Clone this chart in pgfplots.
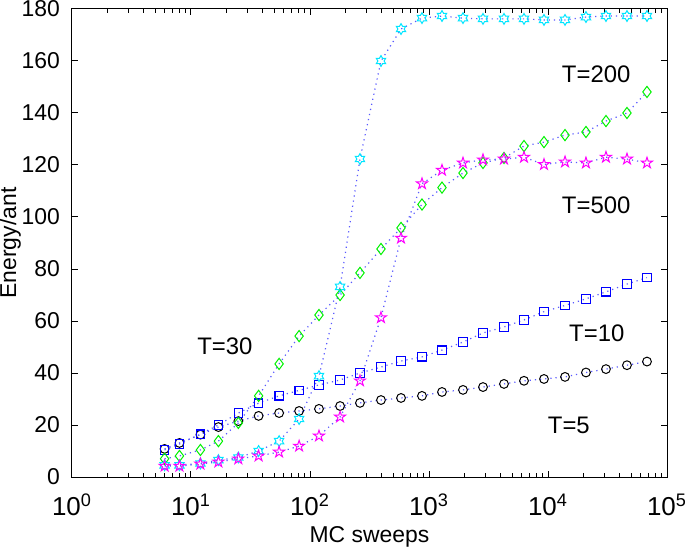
\documentclass[border=0pt]{standalone}
\usepackage{pgfplots}
\usepackage{pgfplotstable}
\pgfplotsset{compat=1.18}
\usepackage{fontspec}
\setmainfont{Liberation Sans}
\usetikzlibrary{plotmarks}

\definecolor{lineblue}{rgb}{0.35,0.35,1}
\definecolor{mgreen}{rgb}{0,0.95,0}
\definecolor{mmag}{rgb}{1,0,1}
\definecolor{mcyan}{rgb}{0,0.9,1}

\pgfdeclareplotmark{pentagram}{%
 \pgfpathmoveto{\pgfpointpolar{90}{\pgfplotmarksize}}%
 \pgfpathlineto{\pgfpointpolar{126}{0.382\pgfplotmarksize}}%
 \pgfpathlineto{\pgfpointpolar{162}{\pgfplotmarksize}}%
 \pgfpathlineto{\pgfpointpolar{198}{0.382\pgfplotmarksize}}%
 \pgfpathlineto{\pgfpointpolar{234}{\pgfplotmarksize}}%
 \pgfpathlineto{\pgfpointpolar{270}{0.382\pgfplotmarksize}}%
 \pgfpathlineto{\pgfpointpolar{306}{\pgfplotmarksize}}%
 \pgfpathlineto{\pgfpointpolar{342}{0.382\pgfplotmarksize}}%
 \pgfpathlineto{\pgfpointpolar{18}{\pgfplotmarksize}}%
 \pgfpathlineto{\pgfpointpolar{54}{0.382\pgfplotmarksize}}%
 \pgfpathclose\pgfusepathqstroke}

\pgfdeclareplotmark{hexagram}{%
 \pgfpathmoveto{\pgfpointpolar{90}{\pgfplotmarksize}}%
 \pgfpathlineto{\pgfpointpolar{120}{0.577\pgfplotmarksize}}%
 \pgfpathlineto{\pgfpointpolar{150}{\pgfplotmarksize}}%
 \pgfpathlineto{\pgfpointpolar{180}{0.577\pgfplotmarksize}}%
 \pgfpathlineto{\pgfpointpolar{210}{\pgfplotmarksize}}%
 \pgfpathlineto{\pgfpointpolar{240}{0.577\pgfplotmarksize}}%
 \pgfpathlineto{\pgfpointpolar{270}{\pgfplotmarksize}}%
 \pgfpathlineto{\pgfpointpolar{300}{0.577\pgfplotmarksize}}%
 \pgfpathlineto{\pgfpointpolar{330}{\pgfplotmarksize}}%
 \pgfpathlineto{\pgfpointpolar{0}{0.577\pgfplotmarksize}}%
 \pgfpathlineto{\pgfpointpolar{30}{\pgfplotmarksize}}%
 \pgfpathlineto{\pgfpointpolar{60}{0.577\pgfplotmarksize}}%
 \pgfpathclose\pgfusepathqstroke}

\pgfplotstableread{
x      t5    t10   t30    t500   t200
6      10.8  10.4  7.0    4.2    4.5
8      13.1  12.7  8.1    4.2    4.5
12     16.3  16.5  10.4   5.0    5.2
17     19.2  20.0  13.8   5.8    6.5
25     21.5  24.6  20.8   7.0    7.5
37     23.5  28.4  31.2   8.1    10.0
55     24.6  31.2  43.5   9.6    13.8
81     25.4  33.3  54.2   11.9   22.3
119    26.2  35.4  62.3   15.8   38.8
179    27.3  37.3  70.0   23.1   73.1
263    28.5  40.0  78.5   37.0   122.3
395    29.6  42.3  87.7   61.3   160.0
582    30.4  44.6  95.8   91.9   172.3
873    31.2  46.2  104.8  112.8  176.5
1286   32.7  48.8  111.3  118.0  177.3
1931   33.5  51.9  116.9  120.8  176.5
2843   34.6  55.4  120.8  122.0  176.2
4268   35.8  57.7  122.7  122.3  176.2
6285   37.0  60.4  127.3  123.0  176.2
9254   37.7  63.6  128.8  120.2  175.8
13900  38.5  66.0  131.5  121.2  175.8
20850  40.2  68.5  132.7  120.8  176.9
30700  41.5  71.2  136.9  123.0  177.3
46100  43.0  74.2  140.0  122.3  177.3
67900  44.4  76.7  148.1  120.8  177.3
}\datatable

\begin{document}
\begin{tikzpicture}
\path[use as bounding box] (-36bp,-35bp) rectangle (306.5bp,238.5bp);
\begin{axis}[
  xmode=log,
  scale only axis,
  width=297.5bp, height=234bp,
  xmin=1, xmax=100000, ymin=0, ymax=180,
  xtick={1,10,100,1000,10000,100000},
  xticklabels={10\textsuperscript{0},10\textsuperscript{1},10\textsuperscript{2},10\textsuperscript{3},10\textsuperscript{4},10\textsuperscript{5}},
  ytick={0,20,40,60,80,100,120,140,160,180},
  yticklabels={0,20,40,60,80,100,120,140,160,180},
  tick align=inside,
  major tick length=3bp, minor tick length=1.8bp,
  axis line style={line width=0.5bp},
  every tick/.style={black, line width=0.5bp},
  yticklabel style={font=\fontsize{11.5}{14}\selectfont, xshift=-2.5bp},
  xticklabel style={font=\fontsize{13}{15}\selectfont, yshift=-5bp},
  xlabel={MC sweeps}, ylabel={Energy/ant},
  label style={font=\fontsize{11.5}{13}\selectfont},
  xlabel style={at={(axis description cs:0.5,0)}, anchor=base, yshift=-32.5bp},
  ylabel style={at={(axis description cs:-0.104,0.5)}, anchor=center, rotate=0},
  clip=false,
]
\addplot[color=lineblue, dotted, line width=0.6bp, mark=o, mark size=2.2bp, mark options={solid, draw=black, line width=0.5bp}] table[x=x, y=t5] {\datatable};
\addplot[color=lineblue, dotted, line width=0.6bp, mark=square, mark size=2.1bp, mark options={solid, draw=blue, line width=0.6bp}] table[x=x, y=t10] {\datatable};
\addplot[color=lineblue, dotted, line width=0.6bp, mark=diamond, mark size=2.8bp, mark options={solid, draw=mgreen, line width=0.5bp}] table[x=x, y=t30] {\datatable};
\addplot[color=lineblue, dotted, line width=0.6bp, mark=hexagram, mark size=2.7bp, mark options={solid, draw=mcyan, line width=0.5bp}] table[x=x, y=t200] {\datatable};
\addplot[color=lineblue, dotted, line width=0.6bp, mark=pentagram, mark size=2.9bp, mark options={solid, draw=mmag, line width=0.5bp}] table[x=x, y=t500] {\datatable};
\node[font=\fontsize{12}{14}\selectfont] at (rel axis cs:0.881,0.861) {T=200};
\node[font=\fontsize{12}{14}\selectfont] at (rel axis cs:0.881,0.581) {T=500};
\node[font=\fontsize{12}{14}\selectfont] at (rel axis cs:0.882,0.308) {T=10};
\node[font=\fontsize{12}{14}\selectfont] at (rel axis cs:0.835,0.111) {T=5};
\node[font=\fontsize{12}{14}\selectfont] at (rel axis cs:0.257,0.280) {T=30};
\end{axis}
\end{tikzpicture}
\end{document}
